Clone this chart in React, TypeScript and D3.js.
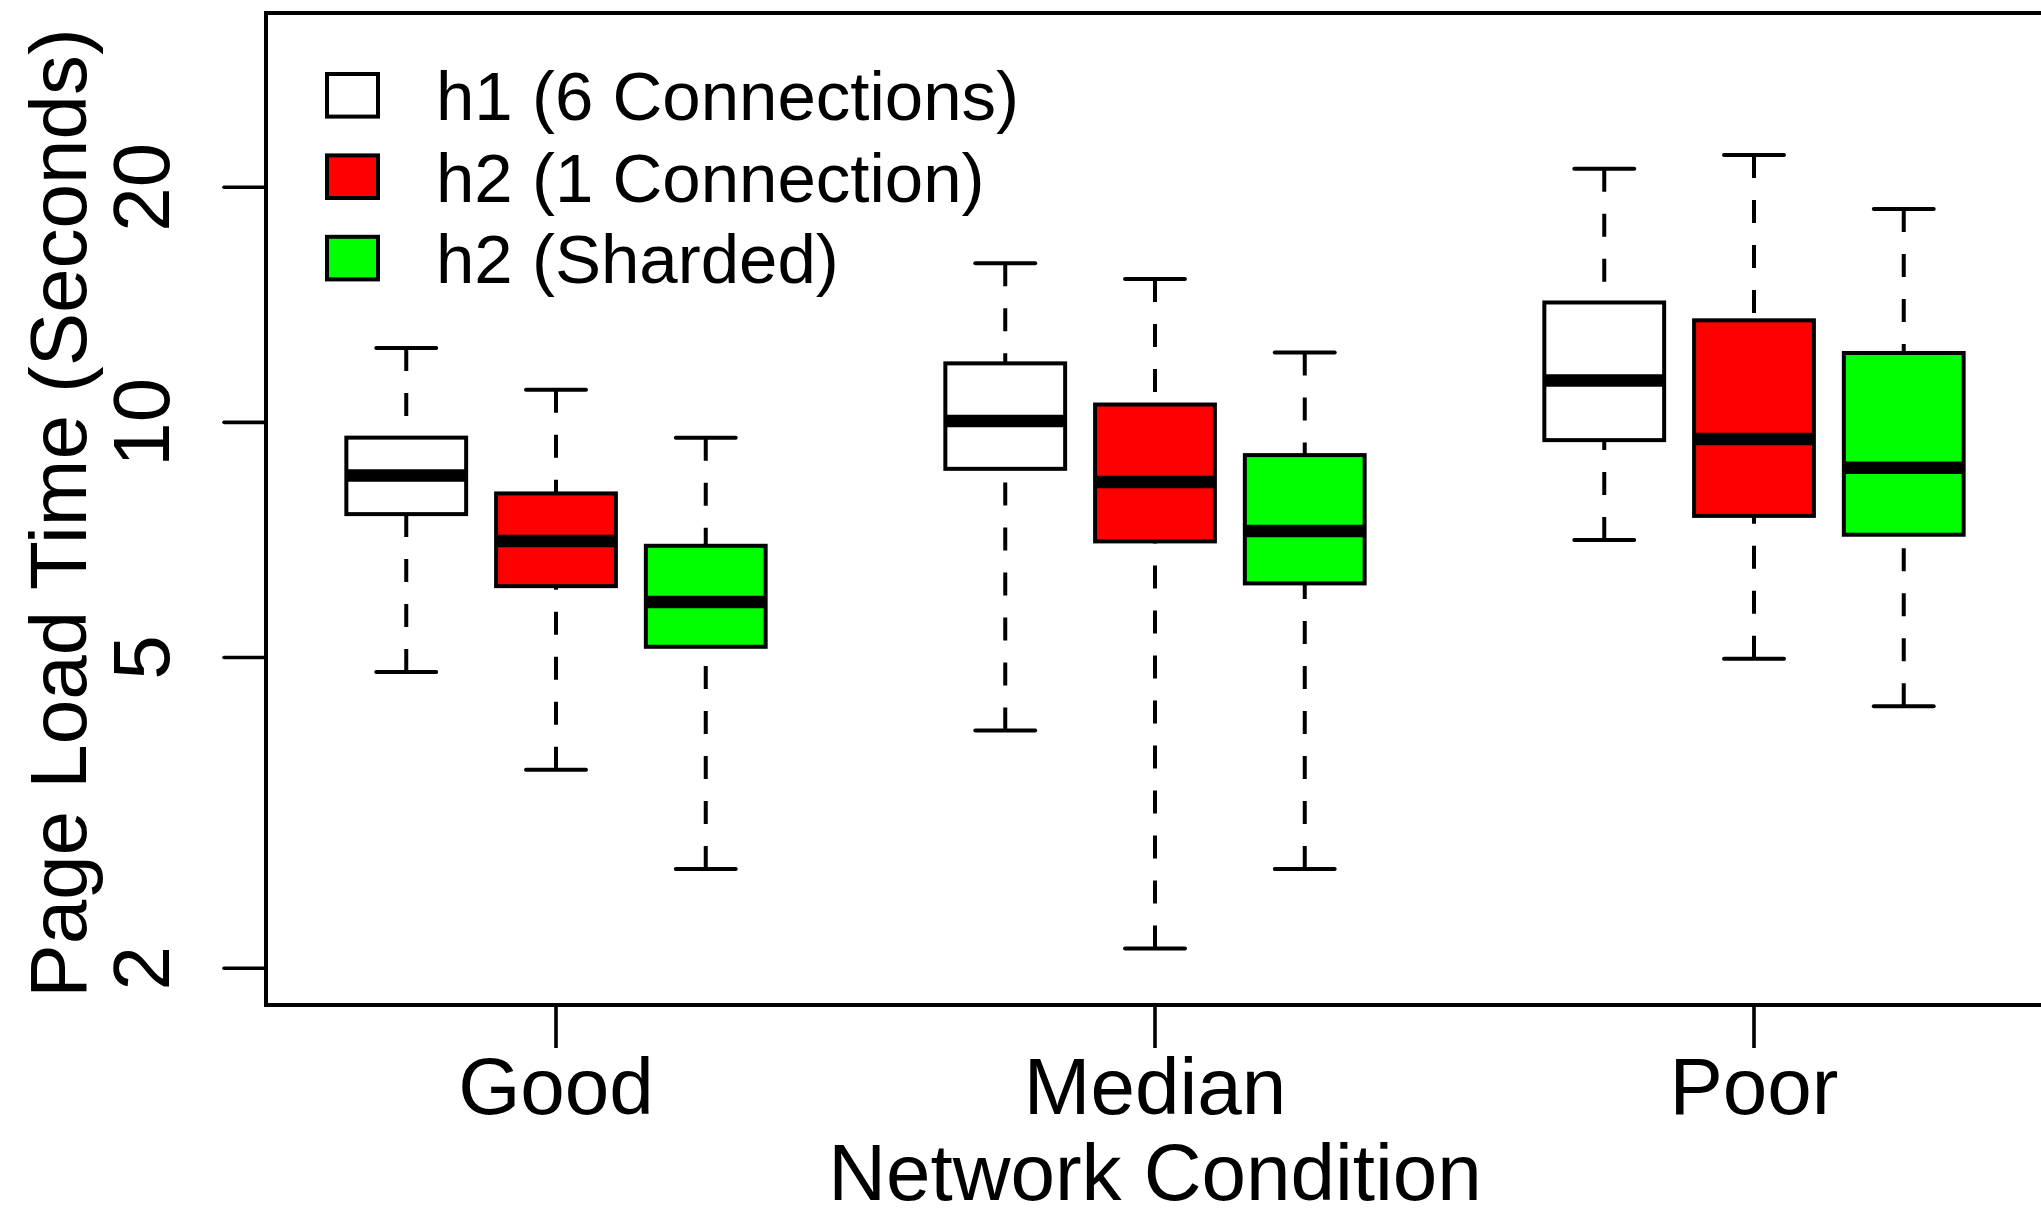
import React from "react";
import * as d3 from "d3";

// categories on the x axis
const conditions = ["Good", "Median", "Poor"];
// legend / series
const seriesNames = ["h1 (6 Connections)", "h2 (1 Connection)", "h2 (Sharded)"];
const seriesFills = ["#FFFFFF", "#FF0000", "#00FF00"];

// [lower whisker, Q1, median, Q3, upper whisker] per condition (seconds)
const h1Stats = [
  [4.79, 7.63, 8.55, 9.56, 12.45],
  [4.03, 8.72, 10.04, 11.9, 15.99],
  [7.07, 9.49, 11.31, 14.24, 21.12],
];
const h2Stats = [
  [3.59, 6.17, 7.05, 8.11, 11.01],
  [2.12, 7.04, 8.39, 10.54, 15.26],
  [4.98, 7.59, 9.52, 13.51, 21.99],
];
const shardedStats = [
  [2.68, 5.16, 5.89, 6.95, 9.56],
  [2.68, 6.22, 7.26, 9.08, 12.29],
  [4.33, 7.18, 8.75, 12.27, 18.76],
];
const yTicks = [2, 5, 10, 20];
const yLimits = [2, 30];

const W = 2041;
const H = 1209;
const left = 266;
const right = 2044;
const top = 13;
const bottom = 1005;
const font = "'Liberation Sans', Arial, Helvetica, sans-serif";

export default function App() {
  // R-style log axis: ylim extended by 4% on each side
  const lo = Math.log10(yLimits[0]);
  const hi = Math.log10(yLimits[1]);
  const pad = (hi - lo) * 0.04;
  const y = d3.scaleLog().domain([10 ** (lo - pad), 10 ** (hi + pad)]).range([bottom, top]);

  const x = d3.scalePoint().domain(conditions).range([556, 1754]);
  const step = x.step();
  const boxW = step * 0.2;
  const offset = step * 0.25;

  const all = [h1Stats, h2Stats, shardedStats];
  const boxes = [];
  all.forEach((stats, si) => {
    stats.forEach((s, ci) => {
      boxes.push({ cx: x(conditions[ci]) + (si - 1) * offset, s, fill: seriesFills[si], key: `${si}-${ci}` });
    });
  });

  const lw = 4;

  return (
    <svg width={W} height={H} style={{ position: "absolute", left: 0, top: 0, background: "#fff" }}>
      {/* boxes */}
      {boxes.map(b => {
        const [w0, q1, med, q3, w1] = b.s;
        return (
          <g key={b.key}>
            <line x1={b.cx} x2={b.cx} y1={y(w1)} y2={y(q3)} stroke="#000" strokeWidth={lw} strokeDasharray="23 22" />
            <line x1={b.cx} x2={b.cx} y1={y(w0)} y2={y(q1)} stroke="#000" strokeWidth={lw} strokeDasharray="23 22" />
            <line x1={b.cx - boxW / 4} x2={b.cx + boxW / 4} y1={y(w1)} y2={y(w1)} stroke="#000" strokeWidth={lw} strokeLinecap="round" />
            <line x1={b.cx - boxW / 4} x2={b.cx + boxW / 4} y1={y(w0)} y2={y(w0)} stroke="#000" strokeWidth={lw} strokeLinecap="round" />
            <rect x={b.cx - boxW / 2} y={y(q3)} width={boxW} height={y(q1) - y(q3)} fill={b.fill} stroke="#000" strokeWidth={lw} />
            <line x1={b.cx - boxW / 2} x2={b.cx + boxW / 2} y1={y(med)} y2={y(med)} stroke="#000" strokeWidth={12.5} />
          </g>
        );
      })}

      {/* frame */}
      <path d={`M${right},${top}H${left}V${bottom}H${right}`} fill="none" stroke="#000" strokeWidth={4} />

      {/* y axis */}
      {yTicks.map(t => (
        <g key={t}>
          <line x1={left - 42} x2={left} y1={y(t)} y2={y(t)} stroke="#000" strokeWidth={3.6} strokeLinecap="round" />
          <text transform={`translate(169,${y(t)}) rotate(-90)`} textAnchor="middle" fontFamily={font} fontSize={80}>{t}</text>
        </g>
      ))}
      <text transform={`translate(86,${(top + bottom) / 2 + 4}) rotate(-90)`} textAnchor="middle" fontFamily={font} fontSize={80}>
        Page Load Time (Seconds)
      </text>

      {/* x axis */}
      {conditions.map(c => (
        <g key={c}>
          <line x1={x(c)} x2={x(c)} y1={bottom} y2={bottom + 43} stroke="#000" strokeWidth={3.6} />
          <text x={x(c)} y={1114} textAnchor="middle" fontFamily={font} fontSize={80}>{c}</text>
        </g>
      ))}
      <text x={x("Median")} y={1200} textAnchor="middle" fontFamily={font} fontSize={80}>Network Condition</text>

      {/* legend */}
      {seriesNames.map((n, i) => {
        const cy = 95.3 + i * 81.4;
        return (
          <g key={n}>
            <rect x={327} y={cy - 21.3} width={51} height={42.6} fill={seriesFills[i]} stroke="#000" strokeWidth={lw} />
            <text x={436} y={cy + 25} fontFamily={font} fontSize={69}>{n}</text>
          </g>
        );
      })}
    </svg>
  );
}
